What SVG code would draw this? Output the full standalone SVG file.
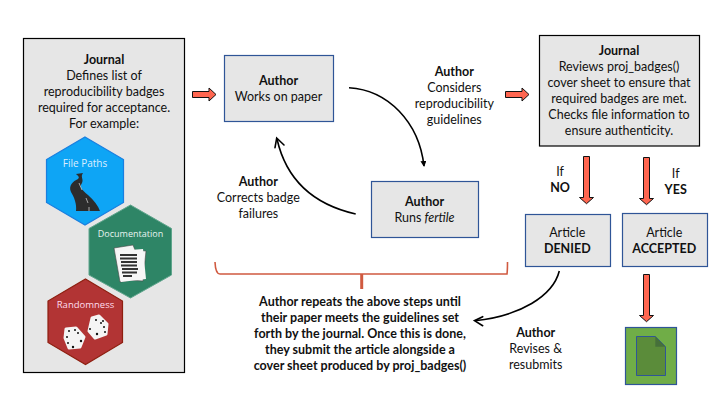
<svg xmlns="http://www.w3.org/2000/svg" width="720" height="405" viewBox="0 0 720 405">
<style>
text{font-family:Lato,"Open Sans","Liberation Sans",sans-serif;font-size:12.5px;fill:#111;text-anchor:middle}
.b{font-weight:bold}
.box{fill:#e6e6e6;stroke:#2f5597;stroke-width:1.2}
.flow{fill:#ff6650;stroke:#111;stroke-width:1}
.curve{fill:none;stroke:#000;stroke-width:1.6}
.arm{fill:none;stroke:#000;stroke-width:1.6;stroke-linecap:round}
.hl{font-family:"Open Sans",sans-serif;font-size:9px;fill:#e8f4f0}
.page{fill:#f4f4f4;stroke:#444;stroke-width:.6}
.die{fill:#f5f5f5;stroke:#f5f5f5;stroke-width:3;stroke-linejoin:round}
</style>
<defs>
<marker id="ah" markerWidth="8" markerHeight="8" refX="5" refY="3" orient="auto" markerUnits="userSpaceOnUse"><path d="M0 0L6 3L0 6Z" fill="#000"/></marker>
</defs>
<g id="journal-left">
<rect x="23.500" y="38.500" width="161" height="334" fill="#e6e6e6" stroke="#000" stroke-width="1.2"/>
<text x="104" y="64" class="b">Journal</text>
<text x="104" y="80">Defines list of</text>
<text x="104" y="96">reproducibility badges</text>
<text x="104" y="112">required for acceptance.</text>
<text x="104" y="128">For example:</text>
</g>
<g id="badge-filepaths">
<path d="M85 137L123.500 159.500V202.500L85 225L46.500 202.500V159.500Z" fill="#0ea5f5" stroke="#1a7fe0" stroke-width="1.2"/>
<text x="85" y="166.700" class="hl" style="fill:#def;font-size:10px">File Paths</text>
<path d="M76 174L83 173C80 177 84 179 82 183C79 187 82 190 88 195C94 200 98 206 100 211L76 211C77 204 74 197 71 192C68 186 73 181 78 179C80 177 78 176 76 174Z" fill="#2c2c2c"/>
<path d="M79 183L82 190M86 198L88 203M89 207V211" stroke="#ddd" stroke-width=".7" fill="none"/>
</g>
<g id="badge-documentation">
<path d="M130.500 205L171.500 228.500V275L130.500 298L89 275V228.500Z" fill="#2e8566" stroke="#5fa58c" stroke-width="1"/>
<text x="130.500" y="236.700" class="hl">Documentation</text>
<path d="M132 250L146 251L143 281L125 280Z" class="page"/>
<path d="M114 248L133 245L135 250L127 281L120 282Z" class="page"/>
<path d="M117 251L143 249L146 279L121 282Z" fill="#f7f7f7"/>
<path d="M120 255H137M120 258.500H137M121 262H137M121 265.500H137M122 269H138M122 272.500H137M123 276H132" stroke="#333" stroke-width="1.800"/>
</g>
<g id="badge-randomness">
<path d="M85.500 279L122.500 301V342.500L85.500 364.500L48 342.500V301Z" fill="#b23434" stroke="#8e1f10" stroke-width="1.2"/>
<text x="85.500" y="307.700" class="hl" style="fill:#fde;font-size:9.500px">Randomness</text>
<path d="M66 329L76 328L84 337L80 347L69 348L65 338Z" class="die"/>
<path d="M92 318L99 316L107 324L106 334L95 338L89 331Z" class="die"/>
<g fill="#111"><circle cx="69" cy="331" r="1"/><circle cx="75" cy="330" r="1"/><circle cx="78" cy="333" r="1"/><circle cx="67" cy="337" r="1"/><circle cx="68" cy="343" r="1"/><circle cx="73" cy="347" r="1.200"/><circle cx="81" cy="341" r="1.200"/><circle cx="96" cy="320" r="1"/><circle cx="101" cy="323" r="1"/><circle cx="104" cy="327" r="1"/><circle cx="103" cy="321" r="1"/><circle cx="105" cy="332" r="1"/><circle cx="97" cy="334" r="1.200"/><circle cx="90" cy="329" r="1"/></g>
</g>
<g id="author-works">
<rect x="224.500" y="55.500" width="109" height="66" class="box"/>
<text x="278.500" y="85" class="b">Author</text>
<text x="278.500" y="101">Works on paper</text>
</g>
<g id="author-runs">
<rect x="371.500" y="181.500" width="107" height="56" class="box"/>
<text x="424.500" y="205.700" class="b">Author</text>
<text x="424.500" y="221.700">Runs <tspan font-style="italic">fertile</tspan></text>
</g>
<g id="journal-right">
<rect x="539.500" y="35.500" width="160" height="110.500" fill="#e6e6e6" stroke="#000" stroke-width="1.2"/>
<text x="619" y="55" class="b">Journal</text>
<text x="619" y="71">Reviews proj_badges()</text>
<text x="619" y="87">cover sheet to ensure that</text>
<text x="619" y="103">required badges are met.</text>
<text x="619" y="119">Checks file information to</text>
<text x="619" y="135">ensure authenticity.</text>
</g>
<g id="article-denied">
<rect x="525.500" y="214.500" width="85" height="52" class="box"/>
<text x="567.300" y="236.700">Article</text>
<text x="567.300" y="252.700" class="b">DENIED</text>
</g>
<g id="article-accepted">
<rect x="622.500" y="213.500" width="85" height="53" class="box"/>
<text x="664.300" y="236.700">Article</text>
<text x="664.300" y="252.700" class="b">ACCEPTED</text>
</g>
<g id="document">
<rect x="625.500" y="327.500" width="51" height="57" fill="#70ad47" stroke="#2f5597" stroke-width="1.2"/>
<path d="M636.500 336.500H655.300L665.500 346.700V375.500H636.500Z" fill="#5b8c3a" stroke="#2f5597" stroke-width="1"/>
<path d="M655.300 336.500L665.500 346.700H655.300Z" fill="#46703a"/>
</g>
<g id="connectors">
<path class="flow" d="M192.500 91.500H209V88L216 94.500L209 101V97.500H192.500Z"/>
<path class="flow" d="M505.500 91.500H522V88L529 94.500L522 101V97.500H505.500Z"/>
<path class="flow" d="M583.500 156.500H589.500V197.500H593.500L586.500 203.700L579.500 197.500H583.500Z"/>
<path class="flow" d="M643.500 157.500H649.500V198.500H653.500L646.500 204.700L639.500 198.500H643.500Z"/>
<path class="flow" d="M643.500 274.500H649.500V315.500H653.500L646.500 321.700L639.500 315.500H643.500Z"/>
<path class="curve" d="M349 87.700C388 90 419 122 424 166" marker-end="url(#ah)"/>
<path class="curve" d="M355.700 214C316 205 287 183 277 139"/>
<path class="arm" d="M284 145L276.700 138L275 147.700"/>
<path class="curve" d="M559.300 271C553 296 520 316 475 320.700"/>
<path class="arm" d="M482.700 316.700L474.500 320.700L482.700 325.700"/>
<path d="M215 262Q215.500 274 220 274H507Q507.500 270 507.500 262" fill="none" stroke="#d05a40" stroke-width="1.600"/>
<path d="M361.700 274V289" stroke="#d05a40" stroke-width="3" fill="none"/>
</g>
<g id="labels">
<text x="454.300" y="75.700" class="b">Author</text>
<text x="454.300" y="91.700">Considers</text>
<text x="454.300" y="107.700">reproducibility</text>
<text x="454.300" y="123.700">guidelines</text>
<text x="258.300" y="185.700" class="b">Author</text>
<text x="258.300" y="201.700">Corrects badge</text>
<text x="258.300" y="217.700">failures</text>
<text x="560" y="176">If</text>
<text x="560" y="192" class="b">NO</text>
<text x="675.700" y="178">If</text>
<text x="675.700" y="194" class="b">YES</text>
<text x="535.700" y="336.700" class="b">Author</text>
<text x="535.700" y="352.700">Revises &amp;</text>
<text x="535.700" y="368.700">resubmits</text>
<g class="b">
<text x="360" y="305.700">Author repeats the above steps until</text>
<text x="360" y="321.700">their paper meets the guidelines set</text>
<text x="360" y="337.500">forth by the journal. Once this is done,</text>
<text x="360" y="353.500">they submit the article alongside a</text>
<text x="360" y="369.500">cover sheet produced by proj_badges()</text>
</g>
</g>
</svg>
